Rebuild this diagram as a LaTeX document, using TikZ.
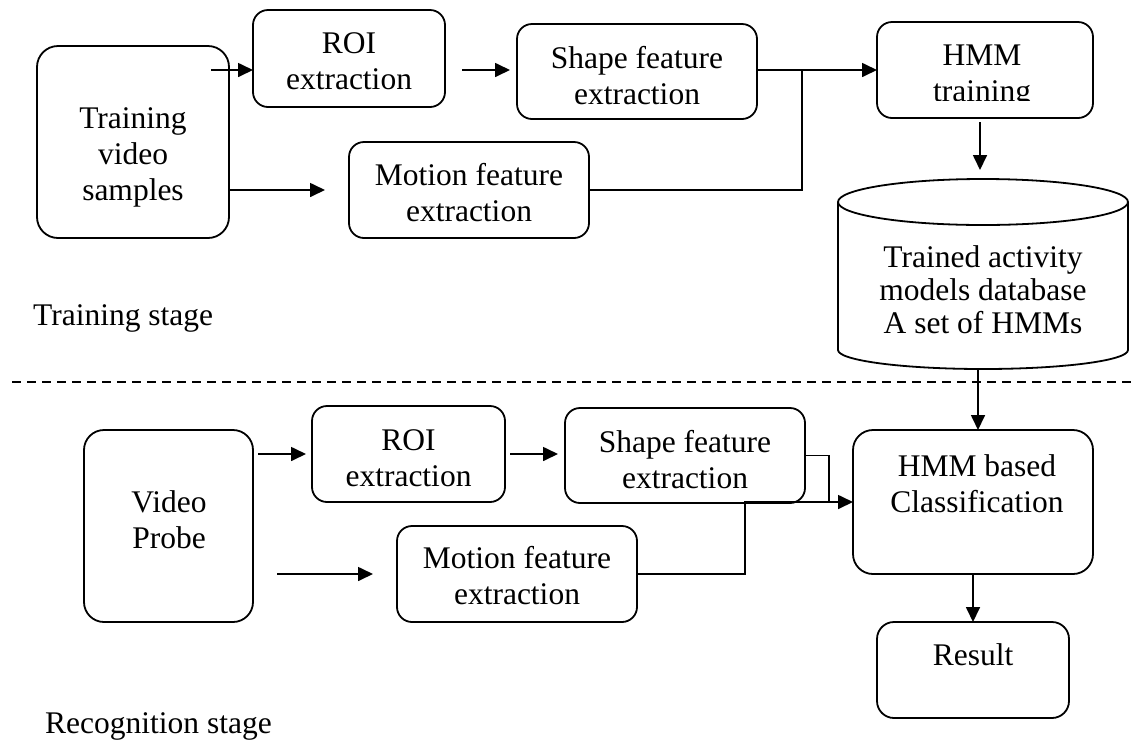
\documentclass[tikz,border=0pt]{standalone}
\usepackage{fontspec}
\setmainfont{Liberation Serif}
\usetikzlibrary{arrows.meta}
\begin{document}
\begin{tikzpicture}[x=1pt,y=-1pt,
  stepbox/.style={draw, line width=1.8pt, rounded corners=15pt, inner sep=0pt, outer sep=0pt},
  bigbox/.style={stepbox, rounded corners=21pt},
  cylline/.style={draw, line width=1.8pt},
  txt/.style={inner sep=0pt, align=center, anchor=north, font=\fontsize{31.5}{36}\selectfont},
  cyltxt/.style={txt, font=\fontsize{31.5}{33}\selectfont},
  lbl/.style={inner sep=0pt, anchor=base west, font=\fontsize{31.5}{36}\selectfont},
  conn/.style={line width=1.7pt},
  arr/.style={conn, -{Triangle[length=15pt,width=14pt]}},
]
\useasboundingbox (0,0) rectangle (1136,740);

% ---------- training stage boxes ----------
\node[bigbox, minimum width=192pt, minimum height=192pt] (tv) at (133,142) {};
\node[txt] (tvt) at (133,106) {\rule{0pt}{22pt}Training\\video\\samples};
\node[stepbox, minimum width=192pt, minimum height=97pt] (roi1) at (349,58.5) {};
\node[txt] (roi1t) at (349,31) {\rule{0pt}{22pt}ROI\\extraction};
\node[stepbox, minimum width=240pt, minimum height=95pt] (shape1) at (637,71.5) {};
\node[txt] (shape1t) at (637,46) {\rule{0pt}{22pt}Shape feature\\extraction};
\node[stepbox, minimum width=240pt, minimum height=96pt] (motion1) at (469,190) {};
\node[txt] (motion1t) at (469,163) {\rule{0pt}{22pt}Motion feature\\extraction};
\node[stepbox, minimum width=216pt, minimum height=96pt] (hmm1) at (985,70) {};
\begin{scope}
  \clip (877,22) rectangle (1093,100);
  \node[txt] (hmm1t) at (982,43) {\rule{0pt}{22pt}HMM\\training};
\end{scope}

% database cylinder
\draw[cylline] (838,202) -- (838,350) arc[start angle=180, end angle=360, x radius=145pt, y radius=19pt] -- (1128,202);
\draw[cylline] (983,202) ellipse[x radius=145pt, y radius=23pt];
\node[cyltxt] (cyl) at (983,245) {\rule{0pt}{22pt}Trained activity\\models database\\A set of HMMs};

\node[lbl] (trainlbl) at (33,325) {Training stage};

% training connectors
\coordinate (a1s) at (211,70);
\draw[arr] (a1s) -- (a1s -| roi1.west);
\coordinate (a2s) at (462,70);
\coordinate (a2e) at (510,70);
\draw[arr] (a2s) -- (a2e);
\coordinate (a3e) at (325,190);
\draw[arr] (a3e -| tv.east) -- (a3e);
\draw[arr] (hmm1.west -| shape1.east) -- (hmm1.west);
\coordinate (j1) at (802,70);
\draw[conn] (motion1.east) -| (j1);
\coordinate (a5s) at (980,122);
\coordinate (a5e) at (980,170);
\draw[arr] (a5s) -- (a5e);

% separator
\coordinate (d1) at (12,382);
\coordinate (d2) at (1136,382);
\draw[line width=1.4pt, dash pattern=on 9pt off 6pt] (d1) -- (d2);

% ---------- recognition stage boxes ----------
\node[bigbox, rounded corners=20pt, minimum width=169pt, minimum height=192pt] (vp) at (168.5,526) {};
\node[txt] (vpt) at (169,490) {\rule{0pt}{22pt}Video\\Probe};
\node[stepbox, minimum width=193pt, minimum height=96pt] (roi2) at (408.5,454) {};
\node[txt] (roi2t) at (408.5,428) {\rule{0pt}{22pt}ROI\\extraction};
\node[stepbox, minimum width=240pt, minimum height=95pt] (shape2) at (685,455.5) {};
\node[txt] (shape2t) at (685,430) {\rule{0pt}{22pt}Shape feature\\extraction};
\node[stepbox, minimum width=240pt, minimum height=96pt] (motion2) at (517,574) {};
\node[txt] (motion2t) at (517,546) {\rule{0pt}{22pt}Motion feature\\extraction};
\node[bigbox, rounded corners=20pt, minimum width=240pt, minimum height=144pt] (hmm2) at (973,502) {};
\node[txt] (hmm2t) at (977,454) {\rule{0pt}{22pt}HMM based\\Classification};
\node[stepbox, rounded corners=17pt, minimum width=192pt, minimum height=96pt] (result) at (973,670) {};
\node[txt] (resultt) at (973,643) {\rule{0pt}{22pt}Result};

\node[lbl] (recoglbl) at (45,733) {Recognition stage};

% recognition connectors
\coordinate (a6s) at (978,370);
\draw[arr] (a6s) -- (a6s |- hmm2.north);
\coordinate (a7s) at (258,454);
\coordinate (a7e) at (306,454);
\draw[arr] (a7s) -- (a7e);
\coordinate (a8s) at (510,454);
\coordinate (a8e) at (558,454);
\draw[arr] (a8s) -- (a8e);
\coordinate (a9s) at (277,574);
\coordinate (a9e) at (373,574);
\draw[arr] (a9s) -- (a9e);
\coordinate (j3) at (829,502);
\draw[conn] (shape2.east) -| (j3);
\coordinate (j2) at (745,502);
\draw[arr] (motion2.east) -| (j2) -- (hmm2.west);
\draw[arr] (hmm2.south) -- (result.north);
\end{tikzpicture}
\end{document}
